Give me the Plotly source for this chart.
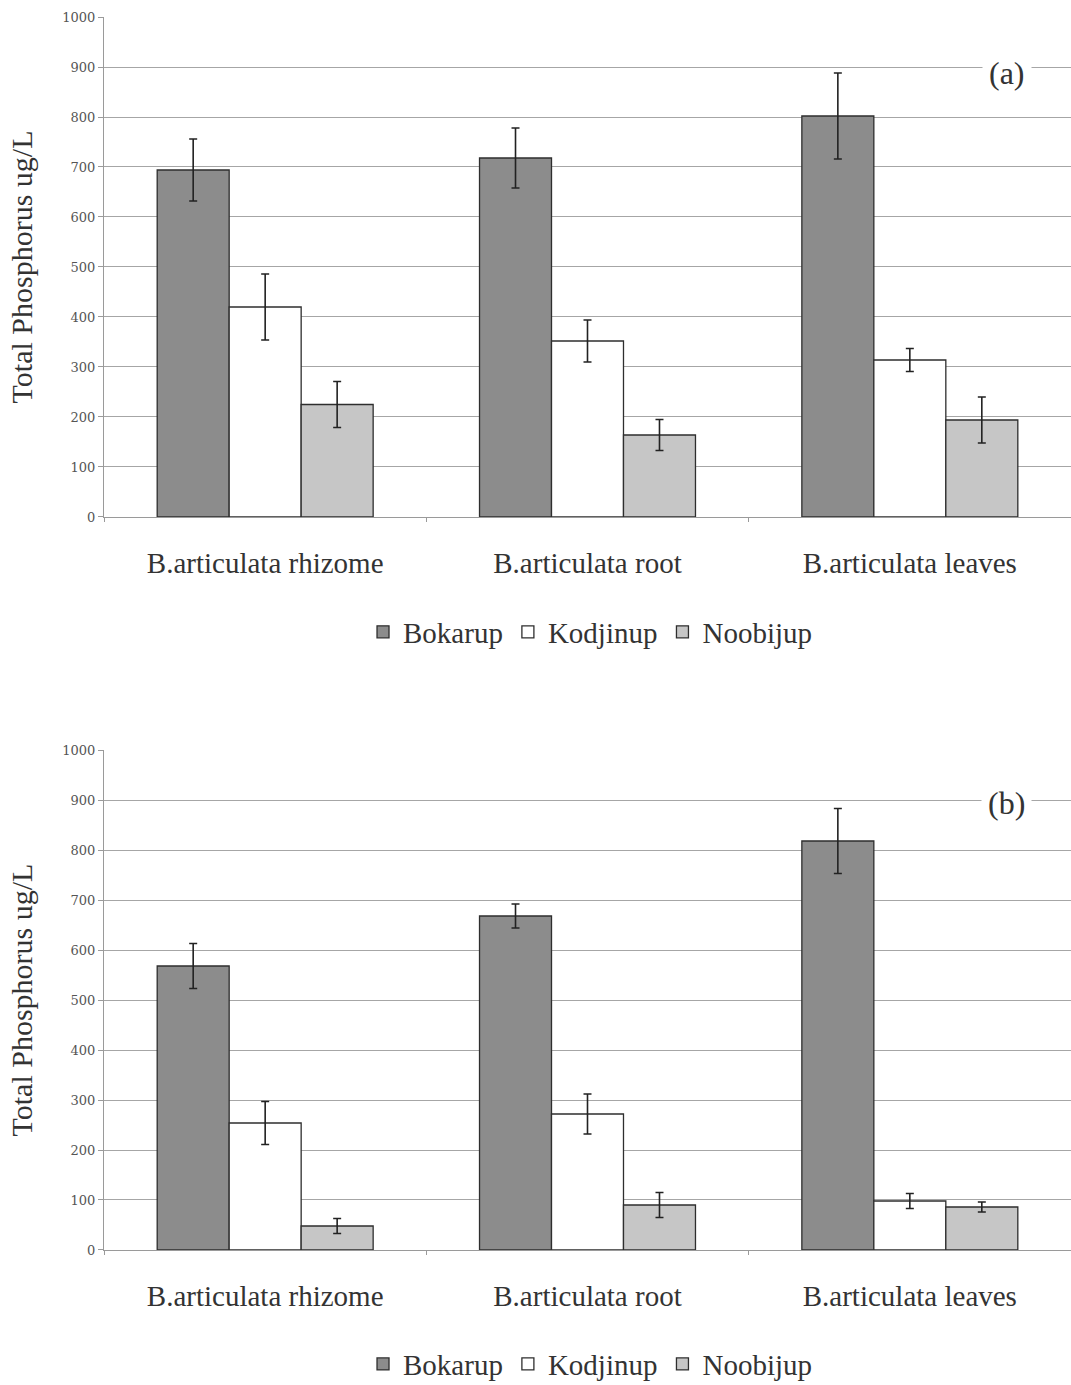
import plotly.graph_objects as go

categories = ["B.articulata rhizome", "B.articulata root", "B.articulata leaves"]
series = ["Bokarup", "Kodjinup", "Noobijup"]

# Panel (a)
a_bokarup = [694, 718, 802]
a_bokarup_err = [62, 60, 86]
a_kodjinup = [420, 352, 314]
a_kodjinup_err = [66, 42, 23]
a_noobijup = [225, 164, 194]
a_noobijup_err = [46, 31, 46]

# Panel (b)
b_bokarup = [568, 668, 818]
b_bokarup_err = [45, 24, 65]
b_kodjinup = [254, 272, 98]
b_kodjinup_err = [43, 40, 15]
b_noobijup = [48, 90, 86]
b_noobijup_err = [15, 25, 10]

y_ticks = [0, 100, 200, 300, 400, 500, 600, 700, 800, 900, 1000]
panel_labels = ["(a)", "(b)"]

colors = {"Bokarup": "#8c8c8c", "Kodjinup": "#ffffff", "Noobijup": "#c6c6c6"}
SERIF = "Liberation Serif, Times New Roman, serif"
TEXT = "#333333"

fig = go.Figure()

panels = [
    ([a_bokarup, a_kodjinup, a_noobijup], [a_bokarup_err, a_kodjinup_err, a_noobijup_err], "x", "y", "legend"),
    ([b_bokarup, b_kodjinup, b_noobijup], [b_bokarup_err, b_kodjinup_err, b_noobijup_err], "x2", "y2", "legend2"),
]

for vals_list, errs_list, xa, ya, lg in panels:
    for name, vals, errs in zip(series, vals_list, errs_list):
        fig.add_trace(go.Bar(
            x=categories, y=vals, name=name, xaxis=xa, yaxis=ya, legend=lg,
            marker=dict(color=colors[name], line=dict(color="#2e2e2e", width=1.3)),
            error_y=dict(type="data", array=errs, visible=True, color="#222222",
                         thickness=1.6, width=4),
        ))

axis_x = dict(
    type="category", showgrid=False, showline=True, linecolor="#9a9a9a", linewidth=1,
    ticks="outside", tickson="boundaries", ticklen=4, tickcolor="#9a9a9a",
    tickfont=dict(family=SERIF, size=29, color=TEXT), ticklabelstandoff=20,
    range=[-0.5, 2.5],
)
axis_y = dict(
    range=[0, 1000], tickvals=y_ticks, showgrid=True, gridcolor="#a6a6a6", gridwidth=1,
    showline=True, linecolor="#9a9a9a", linewidth=1, ticks="outside", ticklen=5,
    tickcolor="#9a9a9a", tickfont=dict(family="DejaVu Serif, serif", size=13, color="#555555"),
    zeroline=False,
    title=dict(text="Total Phosphorus ug/L", font=dict(family=SERIF, size=30, color=TEXT),
               standoff=20),
)

fig.update_layout(
    width=1071, height=1385,
    margin=dict(l=104, r=0, t=17, b=135, autoexpand=False),
    paper_bgcolor="white", plot_bgcolor="white",
    barmode="group", bargap=0.33, bargroupgap=0,
    xaxis=dict(axis_x, domain=[0, 1], anchor="y"),
    yaxis=dict(axis_y, domain=[0.5945, 1], anchor="x"),
    xaxis2=dict(axis_x, domain=[0, 1], anchor="y2"),
    yaxis2=dict(axis_y, domain=[0, 0.4055], anchor="x2"),
    legend=dict(orientation="h", x=0.5026, y=0.5012, xanchor="center", yanchor="middle",
                font=dict(family=SERIF, size=29, color=TEXT), itemwidth=30,
                bgcolor="rgba(0,0,0,0)", tracegroupgap=0),
    legend2=dict(orientation="h", x=0.5026, y=-0.0925, xanchor="center", yanchor="middle",
                 font=dict(family=SERIF, size=29, color=TEXT), itemwidth=30,
                 bgcolor="rgba(0,0,0,0)", tracegroupgap=0),
    showlegend=True,
)

fig.add_annotation(x=2.3, y=888, xref="x", yref="y", text=panel_labels[0], showarrow=False,
                   font=dict(family=SERIF, size=32, color=TEXT), bgcolor="white", borderpad=6)
fig.add_annotation(x=2.3, y=894, xref="x2", yref="y2", text=panel_labels[1], showarrow=False,
                   font=dict(family=SERIF, size=32, color=TEXT), bgcolor="white", borderpad=6)

fig.write_html("out.html")
